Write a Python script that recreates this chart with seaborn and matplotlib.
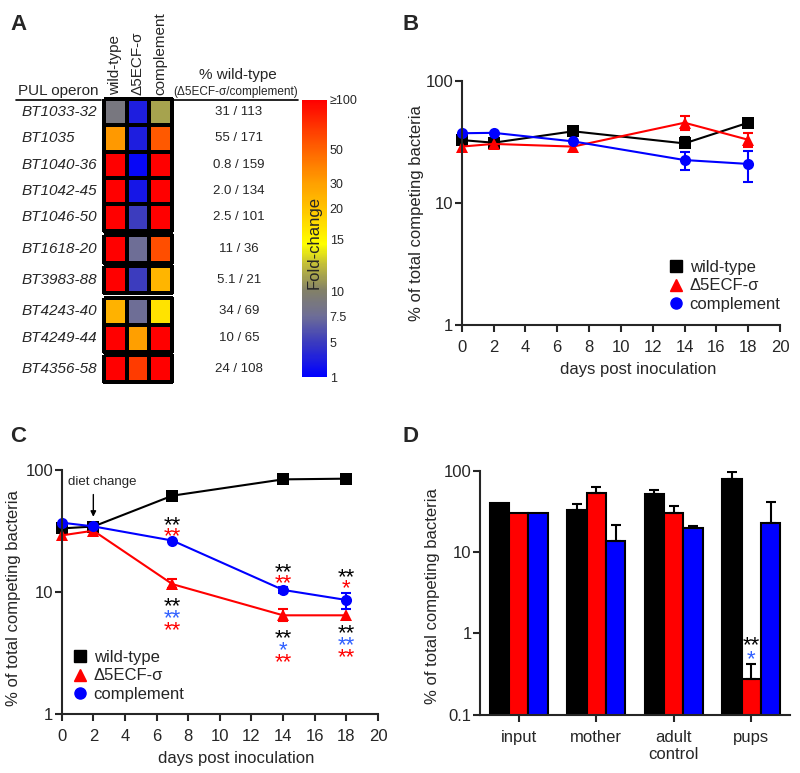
import numpy as np
import pandas as pd
import matplotlib.pyplot as plt
import seaborn as sns
from matplotlib.colors import LinearSegmentedColormap, Normalize
from matplotlib.cm import ScalarMappable
from matplotlib.lines import Line2D
from matplotlib.ticker import NullLocator
from matplotlib.transforms import blended_transform_factory

# ---------------- data ----------------
strains = ["wild-type", "Δ5ECF-σ", "complement"]
palette = {"wild-type": "#000000", "Δ5ECF-σ": "#ff0000", "complement": "#0000ff"}
markers = {"wild-type": "s", "Δ5ECF-σ": "^", "complement": "o"}

# A: heatmap of fold-change per PUL operon
operons = ["BT1033-32", "BT1035", "BT1040-36", "BT1042-45", "BT1046-50",
           "BT1618-20", "BT3983-88", "BT4243-40", "BT4249-44", "BT4356-58"]
group_sizes = [5, 1, 1, 2, 1]
fold_wt = [8.8, 32, 100, 100, 100, 100, 100, 25, 100, 100]
fold_mut = [3, 3, 1.5, 2.5, 5, 7.5, 5, 7.5, 30, 70]
fold_comp = [11.5, 55, 100, 100, 100, 60, 24, 17, 100, 100]
pct_wt = ["31 / 113", "55 / 171", "0.8 / 159", "2.0 / 134", "2.5 / 101",
          "11 / 36", "5.1 / 21", "34 / 69", "10 / 65", "24 / 108"]
cbar_ticks = [1, 5, 7.5, 10, 15, 20, 30, 50, 100]
cbar_labels = ["1", "5", "7.5", "10", "15", "20", "30", "50", "≥100"]
cbar_pos = [0, 0.126, 0.22, 0.31, 0.495, 0.61, 0.70, 0.82, 1.0]

# B: competition, constant diet
days = [0, 2, 7, 14, 18]
b_wt = [32.8, 31.2, 38.7, 30.8, 45.5]
b_wt_lo = [np.nan, np.nan, np.nan, 29.0, np.nan]
b_wt_hi = [np.nan, np.nan, np.nan, 34.5, np.nan]
b_mut = [29.0, 30.5, 29.0, 45.5, 33.0]
b_mut_lo = [np.nan, np.nan, np.nan, 40.0, 29.0]
b_mut_hi = [np.nan, np.nan, np.nan, 51.7, 37.8]
b_comp = [37.3, 37.6, 32.0, 22.5, 20.9]
b_comp_lo = [np.nan, np.nan, np.nan, 18.6, 15.0]
b_comp_hi = [np.nan, np.nan, np.nan, 26.4, 26.9]

# C: competition with diet change
c_wt = [33.2, 34.4, 61.6, 83.8, 84.9]
c_mut = [29.1, 31.8, 11.6, 6.44, 6.44]
c_mut_lo = [np.nan, np.nan, 10.7, 5.8, np.nan]
c_mut_hi = [np.nan, np.nan, 12.8, 7.3, np.nan]
c_comp = [37.0, 34.5, 26.4, 10.4, 8.6]
c_comp_lo = [np.nan, np.nan, np.nan, 9.9, 7.3]
c_comp_hi = [np.nan, np.nan, np.nan, 10.9, 9.9]
sig_days = [7, 14, 18]
sig_above = [["**", "**"], ["**", "**"], ["**", "*"]]      # black, red
sig_below = [["**", "**", "**"], ["**", "*", "**"], ["**", "**", "**"]]  # black, blue, red

# D: mother / pups
sites = ["input", "mother", "adult\ncontrol", "pups"]
d_wt = [39.6, 32.8, 51.2, 78.2]
d_wt_hi = [np.nan, 38.6, 57.8, 96.3]
d_mut = [30.5, 53.7, 30.2, 0.277]
d_mut_hi = [np.nan, 62.4, 36.8, 0.416]
d_comp = [30.2, 13.8, 19.7, 22.7]
d_comp_hi = [np.nan, 21.3, 20.9, 41.2]

# ---------------- style ----------------
sns.set_style("ticks")
plt.rcParams["font.family"] = ["Liberation Sans", "DejaVu Sans"]
plt.rcParams["axes.linewidth"] = 1.5
plt.rcParams["xtick.major.width"] = 1.5
plt.rcParams["ytick.major.width"] = 1.5
plt.rcParams["xtick.major.size"] = 5
plt.rcParams["ytick.major.size"] = 5

W, H = 800, 773
fig = plt.figure(figsize=(W / 100, H / 100), dpi=100)


def px_rect(l, t, r, b):
    return [l / W, 1 - b / H, (r - l) / W, (b - t) / H]


def fx(x):
    return x / W


def fy(y):
    return 1 - y / H


for lab, x, y in [("A", 10, 30), ("B", 403, 30), ("C", 10, 442), ("D", 403, 442)]:
    fig.text(fx(x), fy(y), lab, fontsize=16, fontweight="bold", va="baseline")

# ---------------- panel A ----------------
cmap = LinearSegmentedColormap.from_list("fold", [
    (0.0, (0, 0, 1)),
    (0.126, (60 / 255, 60 / 255, 190 / 255)),
    (0.22, (110 / 255, 110 / 255, 150 / 255)),
    (0.31, (130 / 255, 128 / 255, 105 / 255)),
    (0.40, (190 / 255, 185 / 255, 60 / 255)),
    (0.48, (1, 1, 0)),
    (0.61, (1, 195 / 255, 0)),
    (0.70, (1, 160 / 255, 0)),
    (0.82, (1, 100 / 255, 0)),
    (1.0, (1, 0, 0)),
])
fold = np.column_stack([fold_wt, fold_mut, fold_comp])
heat = np.interp(fold, cbar_ticks, cbar_pos)

group_px = [(99, 230.5), (235, 262.5), (266.5, 293.5), (297.5, 352), (355.5, 382)]
row = 0
for g, (n, (top, bot)) in enumerate(zip(group_sizes, group_px)):
    ax = fig.add_axes(px_rect(104, top, 171.7, bot))
    sns.heatmap(heat[row:row + n], cmap=cmap, vmin=0, vmax=1, cbar=False,
                linewidths=1.5, linecolor="black",
                xticklabels=False, yticklabels=False, ax=ax)
    ax.collections[0].set_clip_on(False)
    tr = blended_transform_factory(fig.transFigure, ax.transData)
    for i in range(n):
        ax.text(fx(22), i + 0.5, operons[row + i], transform=tr, fontsize=11,
                style="italic", ha="left", va="center")
        ax.text(fx(239), i + 0.5, pct_wt[row + i], transform=tr, fontsize=9.5,
                ha="center", va="center")
    if g == 0:
        for j, s in enumerate(strains):
            ax.annotate(s, xy=(j + 0.5, 0), xytext=(0, 4), textcoords="offset pixels",
                        rotation=90, ha="center", va="bottom", fontsize=11)
    row += n

fig.text(fx(18), fy(95), "PUL operon", fontsize=11, va="baseline")
fig.text(fx(237.5), fy(78.5), "% wild-type", fontsize=11, ha="center", va="baseline")
fig.text(fx(236), fy(95), "(Δ5ECF-σ/complement)", fontsize=8.5, ha="center", va="baseline")
fig.add_artist(Line2D([fx(16), fx(101)], [fy(99.5)] * 2, color="black", lw=1.2))
fig.add_artist(Line2D([fx(174), fx(298)], [fy(99.5)] * 2, color="black", lw=1.2))

cax = fig.add_axes(px_rect(302, 100, 327, 377))
cb = fig.colorbar(ScalarMappable(norm=Normalize(0, 1), cmap=cmap), cax=cax)
cb.outline.set_visible(False)
cb.set_ticks(cbar_pos)
cb.set_ticklabels(cbar_labels)
cax.tick_params(length=0, pad=2, labelsize=9)
cax.text(0.5, 0.486, "Fold-change", rotation=90, ha="center", va="center",
         fontsize=12, transform=cax.transAxes)


# ---------------- panels B and C ----------------
def long_df(wt, mut, comp):
    return pd.DataFrame({
        "day": days * 3,
        "pct": wt + mut + comp,
        "strain": [s for s in strains for _ in days],
    })


def draw_lines(ax, df, errs):
    sns.lineplot(data=df, x="day", y="pct", hue="strain", style="strain",
                 hue_order=strains, style_order=strains, palette=palette,
                 markers=markers, dashes=False, markersize=8, markeredgewidth=0,
                 linewidth=1.5, estimator=None, errorbar=None, legend=False,
                 clip_on=False, ax=ax)
    for s, (vals, lo, hi) in errs.items():
        v, lo, hi = np.array(vals), np.array(lo), np.array(hi)
        m = ~np.isnan(lo)
        ax.errorbar(np.array(days)[m], v[m], yerr=[v[m] - lo[m], hi[m] - v[m]],
                    fmt="none", ecolor=palette[s], elinewidth=1.5, capsize=3.5,
                    capthick=1.5, clip_on=False)
    ax.set_yscale("log")
    ax.set_ylim(1, 100)
    ax.set_yticks([1, 10, 100])
    ax.set_yticklabels(["1", "10", "100"])
    ax.yaxis.set_minor_locator(NullLocator())
    ax.set_xlim(0, 20)
    ax.set_xticks(range(0, 21, 2))
    ax.tick_params(axis="both", labelsize=12)
    ax.tick_params(axis="y", pad=1)
    ax.tick_params(axis="x", pad=6)
    ax.set_xlabel("days post inoculation", fontsize=12)
    ax.set_ylabel("% of total competing bacteria", fontsize=12)
    sns.despine(ax=ax)


def strain_legend(ax, left, cy):
    handles = [Line2D([], [], marker=markers[s], color=palette[s], ls="none", ms=8)
               for s in strains]
    ax.legend(handles, strains, loc="center left", bbox_to_anchor=(fx(left), fy(cy)),
              bbox_transform=fig.transFigure, frameon=False, fontsize=12,
              handlelength=1.0, handletextpad=0.3, borderpad=0, borderaxespad=0,
              labelspacing=0.2)


axB = fig.add_axes(px_rect(461.7, 81, 780, 325))
draw_lines(axB, long_df(b_wt, b_mut, b_comp), {
    "wild-type": (b_wt, b_wt_lo, b_wt_hi),
    "Δ5ECF-σ": (b_mut, b_mut_lo, b_mut_hi),
    "complement": (b_comp, b_comp_lo, b_comp_hi),
})
axB.yaxis.set_label_coords(-0.12, 0.457)
axB.xaxis.set_label_coords(0.555, -0.15)
strain_legend(axB, 668, 286)

axC = fig.add_axes(px_rect(61.7, 470, 378, 714))
draw_lines(axC, long_df(c_wt, c_mut, c_comp), {
    "Δ5ECF-σ": (c_mut, c_mut_lo, c_mut_hi),
    "complement": (c_comp, c_comp_lo, c_comp_hi),
})
axC.yaxis.set_label_coords(-0.13, 0.475)
axC.xaxis.set_label_coords(0.553, -0.15)
strain_legend(axC, 72, 676)

axC.annotate("", xy=(days[1], c_wt[1]), xytext=(0, 32), textcoords="offset pixels",
             arrowprops=dict(arrowstyle="-|>", color="black", lw=1, shrinkA=0,
                             shrinkB=7, mutation_scale=8))
axC.annotate("diet change", xy=(days[1], c_wt[1]), xytext=(9, 45),
             textcoords="offset pixels", ha="center", va="center", fontsize=9.5)


def stars(ax, x, y, texts, colors, offsets):
    for t, c, o in zip(texts, colors, offsets):
        ax.annotate(t, xy=(x, y), xytext=(0, o - 5), textcoords="offset pixels",
                    ha="center", va="center", color=c, fontsize=16)


for k, d in enumerate(sig_days):
    i = days.index(d)
    top = np.nanmax([c_comp[i], c_comp_hi[i]])
    bot = np.nanmin([c_mut[i], c_mut_lo[i]])
    stars(axC, d, top, sig_above[k], ["black", "red"], [20, 8.5])
    stars(axC, d, bot, sig_below[k], ["black", "#3060ff", "red"], [-13, -25, -37])

# ---------------- panel D ----------------
axD = fig.add_axes(px_rect(480, 470.7, 790, 714.7))
dfD = pd.DataFrame({
    "site": sites * 3,
    "pct": d_wt + d_mut + d_comp,
    "strain": [s for s in strains for _ in sites],
})
sns.barplot(data=dfD, x="site", y="pct", hue="strain", order=sites, hue_order=strains,
            palette=palette, saturation=1, width=0.75, errorbar=None,
            edgecolor="black", linewidth=1.5, legend=False, ax=axD)
axD.set_yscale("log")
for cont, vals, hi in zip(axD.containers, [d_wt, d_mut, d_comp],
                          [d_wt_hi, d_mut_hi, d_comp_hi]):
    xs = np.array([p.get_x() + p.get_width() / 2 for p in cont.patches])
    v, hi = np.array(vals), np.array(hi)
    m = ~np.isnan(hi)
    axD.errorbar(xs[m], v[m], yerr=[np.zeros(m.sum()), hi[m] - v[m]], fmt="none",
                 ecolor="black", elinewidth=1.5, capsize=3.5, capthick=1.5)
    if cont is axD.containers[1]:
        stars(axD, xs[3], hi[3], ["**", "*"], ["black", "#3060ff"], [24, 10])
axD.set_ylim(0.1, 100)
axD.set_xlim(-0.5, 3.5)
axD.set_yticks([0.1, 1, 10, 100])
axD.set_yticklabels(["0.1", "1", "10", "100"])
axD.yaxis.set_minor_locator(NullLocator())
axD.tick_params(axis="both", labelsize=12)
axD.tick_params(axis="y", pad=1)
axD.tick_params(axis="x", pad=6)
axD.set_xlabel("")
axD.set_ylabel("% of total competing bacteria", fontsize=12)
axD.yaxis.set_label_coords(-0.129, 0.486)
sns.despine(ax=axD)

fig.savefig("out.png", dpi=100)
